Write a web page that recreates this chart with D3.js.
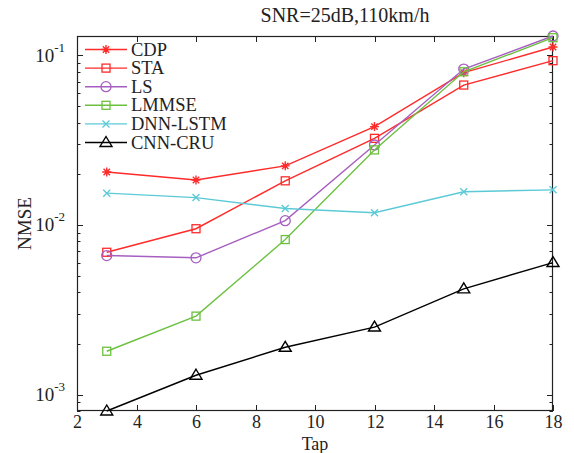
<!DOCTYPE html>
<html><head><meta charset="utf-8">
<script src="https://cdn.jsdelivr.net/npm/d3@7"></script>
<style>body{margin:0;background:#fff}svg{display:block}text{font-family:"Liberation Serif","Times New Roman",serif}</style>
</head><body><svg id="c" width="574" height="453"></svg>
<script>
const taps = [3, 6, 9, 12, 15, 18];
const seriesNames = ["CDP", "STA", "LS", "LMMSE", "DNN-LSTM", "CNN-CRU"];
const cdp = [0.0205, 0.0184, 0.0223, 0.038, 0.079, 0.112];
const sta = [0.0069, 0.0095, 0.0182, 0.0324, 0.0668, 0.093];
const ls = [0.0066, 0.0064, 0.0106, 0.0296, 0.083, 0.13];
const lmmse = [0.0018, 0.0029, 0.0082, 0.0277, 0.080, 0.127];
const dnnLstm = [0.0154, 0.0145, 0.0125, 0.0118, 0.0157, 0.0161];
const cnnCru = [0.0008, 0.0013, 0.0019, 0.0025, 0.0042, 0.006];
const xTicks = [2, 4, 6, 8, 10, 12, 14, 16, 18];
const yMajorExps = [-1, -2, -3];
const title = "SNR=25dB,110km/h";
const xLabel = "Tap", yLabel = "NMSE";

const colors = ["#ff2a2a", "#ff2a2a", "#a65fc0", "#6cc040", "#5ccad6", "#000000"];
const markers = ["star", "square", "circle", "square", "x", "triangle"];
const data = [cdp, sta, ls, lmmse, dnnLstm, cnnCru];

const svg = d3.select("#c");
const L = 77, R = 553, T = 36, B = 411;
const x = d3.scaleLinear().domain([2, 18]).range([L, R]);
const y = d3.scaleLog().domain([8e-4, 0.13]).range([B, T]);

const ax = svg.append("g");
const yTicksAll = [];
for (let e = -4; e <= 0; e++) for (let m = 1; m <= 9; m++) {
  const v = m * Math.pow(10, e);
  if (v >= 8e-4 - 1e-12 && v <= 0.13 + 1e-12) yTicksAll.push({v, major: m === 1});
}
yTicksAll.forEach(t => {
  const len = t.major ? 6 : 3.5;
  const yy = Math.round(y(t.v)) + 0.5;
  ax.append("line").attr("x1", L).attr("x2", L + len).attr("y1", yy).attr("y2", yy).attr("stroke", "#222").attr("stroke-width", 1);
  ax.append("line").attr("x1", R).attr("x2", R - len).attr("y1", yy).attr("y2", yy).attr("stroke", "#222").attr("stroke-width", 1);
});
xTicks.forEach(t => {
  const xx = Math.round(x(t)) + 0.5;
  ax.append("line").attr("x1", xx).attr("x2", xx).attr("y1", B).attr("y2", B - 6).attr("stroke", "#222");
  ax.append("line").attr("x1", xx).attr("x2", xx).attr("y1", T).attr("y2", T + 6).attr("stroke", "#222");
  ax.append("text").attr("x", xx).attr("y", B + 17).attr("text-anchor", "middle").attr("font-size", "18px").attr("fill", "#222").text(t);
});
yMajorExps.forEach(e => {
  const yy = y(Math.pow(10, e));
  const t = ax.append("text").attr("x", 65).attr("y", yy + 6.5).attr("text-anchor", "end").attr("font-size", "19px").attr("fill", "#222");
  t.append("tspan").text("10");
  t.append("tspan").attr("dy", -10).attr("font-size", "13px").text(String(e));
});
ax.append("rect").attr("x", L + 0.5).attr("y", T + 0.5).attr("width", R - L - 1).attr("height", B - T - 1)
  .attr("fill", "none").attr("stroke", "#222").attr("stroke-width", 1.2);

svg.append("text").attr("x", 345).attr("y", 22).attr("text-anchor", "middle").attr("font-size", "20px").attr("fill", "#222").text(title);
svg.append("text").attr("x", (L + R) / 2).attr("y", 450).attr("text-anchor", "middle").attr("font-size", "18px").attr("fill", "#222").text(xLabel);
svg.append("text").attr("transform", `translate(31,${(T + B) / 2}) rotate(-90)`).attr("text-anchor", "middle").attr("font-size", "19px").attr("fill", "#222").text(yLabel);

function drawMarker(g, type, cx, cy, color) {
  if (type === "square") {
    g.append("rect").attr("x", cx - 4).attr("y", cy - 4).attr("width", 8).attr("height", 8).attr("fill", "none").attr("stroke", color).attr("stroke-width", 1.3);
  } else if (type === "circle") {
    g.append("circle").attr("cx", cx).attr("cy", cy).attr("r", 5).attr("fill", "none").attr("stroke", color).attr("stroke-width", 1.3);
  } else if (type === "triangle") {
    g.append("path").attr("d", `M${cx},${cy - 6}L${cx + 6},${cy + 4}L${cx - 6},${cy + 4}Z`).attr("fill", "none").attr("stroke", color).attr("stroke-width", 1.4);
  } else if (type === "x") {
    const s = 3.5;
    g.append("path").attr("d", `M${cx - s},${cy - s}L${cx + s},${cy + s}M${cx - s},${cy + s}L${cx + s},${cy - s}`).attr("stroke", color).attr("stroke-width", 1.4);
  } else if (type === "star") {
    const s = 4.5, d = 3.2;
    g.append("path").attr("d", `M${cx - s},${cy}L${cx + s},${cy}M${cx},${cy - s}L${cx},${cy + s}M${cx - d},${cy - d}L${cx + d},${cy + d}M${cx - d},${cy + d}L${cx + d},${cy - d}`).attr("stroke", color).attr("stroke-width", 1.4);
  }
}

const line = d3.line().x((d, i) => x(taps[i])).y(d => y(d));
data.forEach((vals, k) => {
  const g = svg.append("g");
  g.append("path").attr("d", line(vals)).attr("fill", "none").attr("stroke", colors[k]).attr("stroke-width", 1.4);
  vals.forEach((v, i) => drawMarker(g, markers[k], x(taps[i]), y(v), colors[k]));
});

const lg = svg.append("g");
seriesNames.forEach((n, k) => {
  const yy = 49.5 + k * 18.6;
  lg.append("line").attr("x1", 85).attr("x2", 127).attr("y1", yy).attr("y2", yy).attr("stroke", colors[k]).attr("stroke-width", 1.4);
  drawMarker(lg, markers[k], 106, yy, colors[k]);
  lg.append("text").attr("x", 131).attr("y", yy + 6).attr("font-size", "18.5px").attr("fill", "#222").text(n);
});
</script></body></html>
